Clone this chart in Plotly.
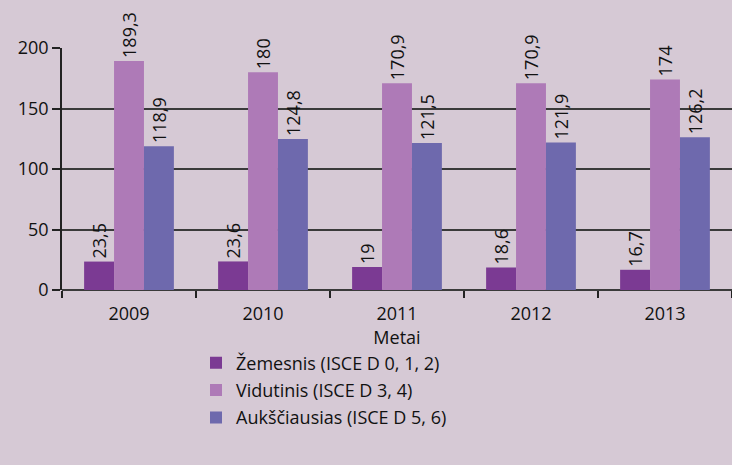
import plotly.graph_objects as go

years = ["2009", "2010", "2011", "2012", "2013"]
zemesnis = [23.5, 23.6, 19, 18.6, 16.7]
vidutinis = [189.3, 180, 170.9, 170.9, 174]
auksciausias = [118.9, 124.8, 121.5, 121.9, 126.2]

names = ["Žemesnis (ISCE D 0, 1, 2)", "Vidutinis (ISCE D 3, 4)", "Aukščiausias (ISCE D 5, 6)"]
colors = ["#7B3A93", "#AE7AB7", "#6E69AD"]
BG = "#D6C9D5"
FONT = "Open Sans"
FS = 18

def fmt(v):
    return f"{v:g}".replace(".", ",")

fig = go.Figure()
for i, (name, vals, col) in enumerate(zip(names, [zemesnis, vidutinis, auksciausias], colors)):
    fig.add_trace(go.Bar(
        x=years, y=vals, name=name, legendgroup=f"g{i}",
        marker=dict(color=col, line=dict(width=0)),
        text=[fmt(v) for v in vals], textposition="outside", textangle=-90,
        textfont=dict(family=FONT, size=FS, color="#111"), cliponaxis=False,
    ))

fig.update_layout(
    width=732, height=465,
    paper_bgcolor=BG, plot_bgcolor=BG,
    margin=dict(l=62, r=0, t=48, b=175),
    barmode="group", bargap=0.33, bargroupgap=0,
    font=dict(family=FONT, size=FS, color="#111"),
    showlegend=True,
    legend=dict(orientation="v", x=0.2, y=-0.225, xanchor="left", yanchor="top",
                bgcolor="rgba(0,0,0,0)", font=dict(size=18, family=FONT),
                itemsizing="constant", tracegroupgap=1, itemwidth=30),
    xaxis=dict(
        title=dict(text="Metai", standoff=6, font=dict(size=FS)),
        showline=False, ticks="outside", tickson="boundaries", ticklen=7,
        tickcolor="#222", tickwidth=1.5, showgrid=False, tickfont=dict(size=FS),
        ticklabelstandoff=11,
    ),
    yaxis=dict(
        range=[0, 200], tickvals=[0, 50, 100, 150, 200],
        showgrid=True, gridcolor="#3a3a3a", gridwidth=1.5,
        zeroline=True, zerolinecolor="#3a3a3a", zerolinewidth=1.5,
        showline=True, linecolor="#222", linewidth=1.5,
        ticks="outside", ticklen=8, tickcolor="#222", tickwidth=1.5,
        tickfont=dict(size=FS),
    ),
    uniformtext=dict(mode="show", minsize=FS),
)

fig.write_html("out.html", config={"displayModeBar": False},
               post_script="document.body.style.margin='0';document.body.style.background='" + BG + "';")
